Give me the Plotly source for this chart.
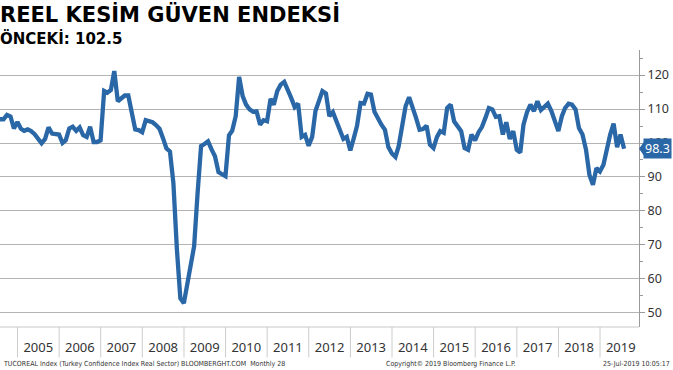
import pandas as pd
import plotly.graph_objects as go

# ---------------- data ----------------
start_month = "2004-07-31"
values = [
    # 2004 Jul-Dec
    107.0, 107.0, 108.3, 107.8, 104.3, 106.2,
    # 2005
    104.2, 103.6, 104.0, 103.5, 102.6, 101.2, 99.9, 101.2, 104.6, 102.8, 102.8, 102.5,
    # 2006
    100.0, 100.8, 104.3, 104.8, 103.6, 104.6, 102.3, 101.8, 104.8, 100.3, 100.3, 100.8,
    # 2007
    115.3, 114.8, 115.6, 121.2, 112.3, 113.0, 114.0, 114.0, 108.9, 104.0, 103.8, 103.2,
    # 2008
    106.7, 106.4, 106.1, 105.3, 104.2, 101.5, 98.4, 97.5, 88.2, 68.6, 54.3, 52.8,
    # 2009
    59.2, 64.6, 69.6, 85.0, 99.1, 99.7, 100.5, 98.1, 96.1, 91.4, 90.7, 90.2,
    # 2010
    102.3, 103.6, 107.9, 119.5, 113.8, 111.3, 109.9, 109.2, 109.3, 105.4, 106.7, 106.4,
    # 2011
    113.0, 111.3, 115.3, 117.2, 118.0, 116.0, 113.3, 110.6, 111.6, 101.8, 102.4, 99.2,
    # 2012
    101.8, 109.4, 112.8, 115.3, 114.6, 107.9, 109.1, 106.4, 103.7, 101.2, 101.8, 97.8,
    # 2013
    101.5, 105.1, 111.8, 111.6, 114.5, 114.3, 109.2, 107.1, 105.4, 103.9, 98.8, 96.9,
    # 2014
    95.9, 99.0, 105.4, 110.8, 113.5, 110.8, 107.4, 103.9, 104.1, 105.1, 99.5, 98.5,
    # 2015
    101.8, 103.5, 103.0, 110.3, 111.3, 106.4, 105.1, 103.5, 98.5, 98.0, 102.5, 100.8,
    # 2016
    103.2, 104.7, 107.4, 110.3, 109.9, 107.7, 107.9, 102.5, 106.1, 101.2, 103.5, 98.0,
    # 2017
    97.2, 105.4, 109.1, 111.3, 109.4, 112.3, 109.7, 110.8, 111.6, 109.4, 106.4, 103.5,
    # 2018
    107.9, 110.3, 111.6, 111.3, 109.9, 104.4, 102.5, 98.0, 90.6, 87.7, 92.6, 91.6,
    # 2019 Jan-Jul
    93.6, 98.5, 102.5, 105.7, 98.8, 102.5, 98.3,
]
years = list(range(2005, 2020))
y_ticks = [50, 60, 70, 80, 90, 100, 110, 120]
last_value = 98.3
previous_value = 102.5

title_text = "REEL KESİM GÜVEN ENDEKSİ"
subtitle_text = f"ÖNCEKİ: {previous_value}"
footer_left = "TUCOREAL Index (Turkey Confidence Index Real Sector) BLOOMBERGHT.COM  Monthly 28"
footer_mid = "Copyright© 2019 Bloomberg Finance L.P."
footer_right = "25-Jul-2019 10:05:17"

dates = pd.date_range(start_month, periods=len(values), freq="ME")

LINE = "#2a67a6"
GRID = "#b4b4b4"
AXIS = "#9a9a9a"
TXT = "#333333"

fig = go.Figure()
fig.add_trace(go.Scatter(x=dates, y=values, mode="lines",
                         line=dict(color=LINE, width=4.3), hoverinfo="skip",
                         showlegend=False))

# year separators in the bottom strip
shapes = []
for yr in years:
    shapes.append(dict(type="line", xref="x", yref="paper",
                       x0=f"{yr}-01-01", x1=f"{yr}-01-01", y0=0, y1=-0.11,
                       line=dict(color="#cccccc", width=1)))
# bottom border of plot
shapes.append(dict(type="line", xref="paper", yref="paper", x0=0, x1=1, y0=0, y1=0,
                   line=dict(color="#c8c8c8", width=1)))
# pointer of last-value tag
shapes.append(dict(type="path", xref="paper", yref="y", xsizemode="pixel", ysizemode="pixel",
                   xanchor=1, yanchor=last_value, path="M0,0 L5,7 L5,-7 Z",
                   fillcolor=LINE, line=dict(width=0)))

FOOT = dict(family="DejaVu Sans Condensed, DejaVu Sans", size=7, color=TXT)
annotations = [
    dict(text=title_text, xref="paper", yref="paper", x=0, y=1.18, xanchor="left",
         yanchor="top", showarrow=False, xshift=-2,
         font=dict(family="DejaVu Sans", size=21, color="black", weight="bold")),
    dict(text=subtitle_text, xref="paper", yref="paper", x=0, y=1.082, xanchor="left",
         yanchor="top", showarrow=False, xshift=-2,
         font=dict(family="DejaVu Sans", size=15, color="black", weight="bold")),
    dict(text=footer_left, xref="paper", yref="paper", x=0, y=-0.135, xanchor="left",
         yanchor="middle", showarrow=False, xshift=1, font=FOOT),
    dict(text=footer_mid, xref="paper", yref="paper", x=0.706, y=-0.135, xanchor="center",
         yanchor="middle", showarrow=False, font=FOOT),
    dict(text=footer_right, xref="paper", yref="paper", x=1.052, y=-0.135, xanchor="right",
         yanchor="middle", showarrow=False, font=FOOT),
    dict(text=f"{last_value}", xref="paper", yref="y", x=1, y=last_value, xanchor="left",
         yanchor="middle", showarrow=False, xshift=4, bgcolor=LINE, borderpad=1,
         font=dict(family="Noto Sans", size=12.5, color="white")),
]

fig.update_layout(
    width=673, height=370,
    margin=dict(l=0, r=34, t=50, b=43),
    paper_bgcolor="white", plot_bgcolor="white",
    shapes=shapes, annotations=annotations,
    xaxis=dict(type="date", range=["2004-07-31", "2019-12-09"],
               tickvals=[f"{yr}-07-02" for yr in years],
               ticktext=[str(yr) for yr in years],
               ticks="outside", ticklen=8, tickcolor="rgba(0,0,0,0)",
               showgrid=False, showline=False, zeroline=False,
               tickfont=dict(family="Noto Sans", size=13, color=TXT)),
    yaxis=dict(side="right", range=[45.8, 127.4], tickvals=y_ticks,
               showgrid=True, gridcolor=GRID, gridwidth=1.2,
               showline=True, linecolor=AXIS, linewidth=1,
               ticks="outside", ticklen=5, tickcolor=AXIS,
               minor=dict(dtick=5, tick0=0, ticks="outside", ticklen=3, tickcolor=AXIS, showgrid=False),
               zeroline=False,
               tickfont=dict(family="Noto Sans", size=12.5, color=TXT)),
)

fig.write_html("out.html", config={"displayModeBar": False},
               post_script="document.body.style.margin='0';")
